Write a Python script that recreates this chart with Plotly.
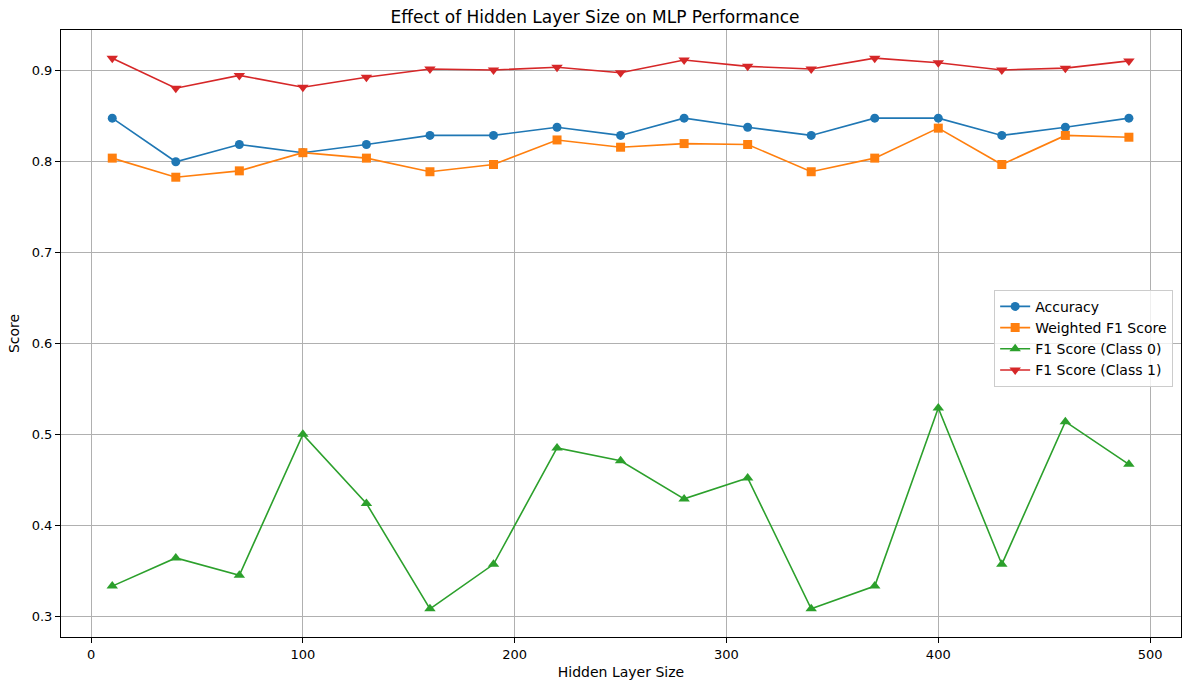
import plotly.graph_objects as go

hidden_sizes = [10, 40, 70, 100, 130, 160, 190, 220, 250, 280, 310, 340, 370, 400, 430, 460, 490]
accuracy = [0.848, 0.800, 0.819, 0.810, 0.819, 0.829, 0.829, 0.838, 0.829, 0.848, 0.838, 0.829, 0.848, 0.848, 0.829, 0.838, 0.848]
weighted_f1 = [0.804, 0.783, 0.790, 0.810, 0.804, 0.789, 0.797, 0.824, 0.816, 0.820, 0.819, 0.789, 0.804, 0.837, 0.797, 0.829, 0.827]
f1_class0 = [0.333, 0.364, 0.345, 0.500, 0.424, 0.308, 0.357, 0.485, 0.471, 0.429, 0.452, 0.308, 0.333, 0.529, 0.357, 0.514, 0.467]
f1_class1 = [0.914, 0.881, 0.895, 0.882, 0.893, 0.902, 0.901, 0.904, 0.898, 0.912, 0.905, 0.902, 0.914, 0.909, 0.901, 0.903, 0.911]

series = [
    ("Accuracy", accuracy, "#1f77b4", "circle", 9),
    ("Weighted F1 Score", weighted_f1, "#ff7f0e", "square", 9),
    ("F1 Score (Class 0)", f1_class0, "#2ca02c", "triangle-up", 10),
    ("F1 Score (Class 1)", f1_class1, "#d62728", "triangle-down", 10),
]

fig = go.Figure()
for name, vals, color, sym, msize in series:
    fig.add_trace(go.Scatter(
        x=hidden_sizes, y=vals, mode="lines+markers", name=name,
        line=dict(color=color, width=1.6),
        marker=dict(color=color, symbol=sym, size=msize),
    ))

axis_common = dict(
    showline=True, linecolor="black", linewidth=1, mirror=True,
    showgrid=True, gridcolor="#b0b0b0", gridwidth=0.8,
    ticks="outside", ticklen=5, tickcolor="black",
    tickfont=dict(family="DejaVu Sans", size=13, color="black"),
    zeroline=False,
)

fig.update_layout(
    width=1190, height=690,
    paper_bgcolor="white", plot_bgcolor="white",
    margin=dict(l=61, r=9, t=30, b=53),
    title=dict(text="Effect of Hidden Layer Size on MLP Performance",
               x=0.5, xanchor="center", y=1 - 17 / 690, yanchor="middle",
               font=dict(family="DejaVu Sans", size=17, color="black")),
    font=dict(family="DejaVu Sans", color="black"),
    xaxis=dict(axis_common, range=[-14.2, 514.6], tickvals=[0, 100, 200, 300, 400, 500],
               title=dict(text="Hidden Layer Size", font=dict(size=14), standoff=6)),
    yaxis=dict(axis_common, range=[0.277, 0.945], tickvals=[0.3, 0.4, 0.5, 0.6, 0.7, 0.8, 0.9],
               tickformat=".1f",
               title=dict(text="Score", font=dict(size=14), standoff=8)),
    legend=dict(x=0.993, y=0.572, xanchor="right", yanchor="top",
                bgcolor="rgba(255,255,255,0.8)", bordercolor="#cccccc", borderwidth=1,
                font=dict(family="DejaVu Sans", size=14), tracegroupgap=0),
    showlegend=True,
)

fig.write_html("out.html", config={"displayModeBar": False},
               post_script="document.body.style.margin='0';")
